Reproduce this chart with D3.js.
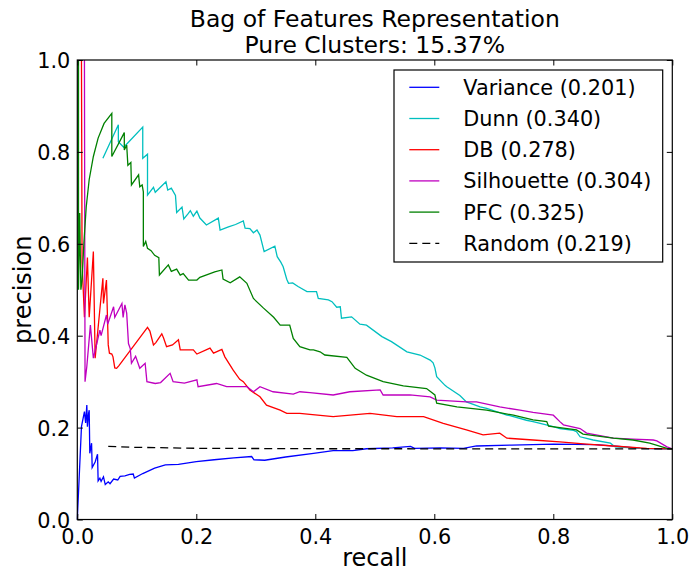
<!DOCTYPE html>
<html>
<head>
<meta charset="utf-8">
<script src="https://cdn.jsdelivr.net/npm/d3@7"></script>
<style>
  html, body { margin: 0; padding: 0; background: #fff; }
  svg { display: block; font-family: "DejaVu Sans", sans-serif; }
</style>
</head>
<body>
<svg id="chart" width="692" height="571"></svg>
<script>
// Precision-recall curves: [recall, precision] pairs per clustering criterion
const varianceData = [[0,0],[0.007,0.202],[0.012,0.235],[0.014,0.21],[0.016,0.249],[0.017,0.202],[0.019,0.231],[0.020,0.238],[0.021,0.144],[0.024,0.166],[0.025,0.113],[0.030,0.125],[0.034,0.142],[0.035,0.084],[0.038,0.09],[0.040,0.083],[0.044,0.093],[0.047,0.076],[0.052,0.082],[0.055,0.078],[0.061,0.088],[0.068,0.086],[0.072,0.094],[0.08,0.095],[0.088,0.098],[0.094,0.099],[0.096,0.090],[0.11,0.1],[0.13,0.112],[0.148,0.119],[0.17,0.12],[0.2,0.126],[0.23,0.13],[0.263,0.134],[0.293,0.137],[0.297,0.130],[0.315,0.129],[0.35,0.136],[0.397,0.144],[0.43,0.150],[0.463,0.150],[0.486,0.154],[0.53,0.156],[0.56,0.159],[0.567,0.155],[0.61,0.156],[0.649,0.155],[0.671,0.160],[0.73,0.162],[0.80,0.164],[0.87,0.163],[0.91,0.159],[0.946,0.155],[1.0,0.1537]];

const dunnData = [[0.043,0.786],[0.069,0.859],[0.069,0.822],[0.078,0.81],[0.110,0.854],[0.110,0.786],[0.118,0.795],[0.118,0.706],[0.128,0.723],[0.131,0.712],[0.149,0.735],[0.152,0.717],[0.158,0.721],[0.165,0.705],[0.167,0.668],[0.176,0.68],[0.179,0.654],[0.186,0.665],[0.19,0.672],[0.195,0.66],[0.201,0.671],[0.206,0.656],[0.217,0.641],[0.237,0.656],[0.240,0.630],[0.254,0.637],[0.266,0.642],[0.279,0.650],[0.282,0.634],[0.29,0.633],[0.296,0.624],[0.302,0.630],[0.307,0.619],[0.314,0.583],[0.332,0.595],[0.336,0.572],[0.342,0.560],[0.346,0.550],[0.352,0.523],[0.355,0.514],[0.362,0.515],[0.371,0.507],[0.386,0.496],[0.402,0.496],[0.405,0.481],[0.422,0.478],[0.428,0.474],[0.436,0.462],[0.442,0.463],[0.444,0.438],[0.461,0.441],[0.475,0.425],[0.486,0.423],[0.512,0.398],[0.528,0.387],[0.554,0.365],[0.576,0.358],[0.593,0.347],[0.598,0.341],[0.601,0.33],[0.604,0.311],[0.618,0.292],[0.621,0.289],[0.643,0.27],[0.654,0.256],[0.677,0.245],[0.688,0.242],[0.722,0.227],[0.727,0.226],[0.755,0.216],[0.766,0.213],[0.80,0.202],[0.811,0.198],[0.834,0.194],[0.839,0.191],[0.845,0.180],[0.867,0.173],[0.896,0.166],[0.904,0.158],[0.946,0.155],[1.0,0.1537]];

const dbData = [[0.007,1.0],[0.008,0.56],[0.012,0.44],[0.017,0.57],[0.02,0.44],[0.027,0.583],[0.030,0.351],[0.043,0.525],[0.044,0.47],[0.049,0.521],[0.052,0.38],[0.054,0.362],[0.058,0.36],[0.060,0.354],[0.063,0.33],[0.066,0.329],[0.07,0.335],[0.118,0.418],[0.122,0.41],[0.128,0.38],[0.132,0.385],[0.142,0.404],[0.145,0.395],[0.150,0.376],[0.160,0.38],[0.170,0.391],[0.173,0.369],[0.195,0.369],[0.201,0.36],[0.223,0.373],[0.229,0.362],[0.243,0.37],[0.248,0.354],[0.262,0.325],[0.273,0.305],[0.279,0.30],[0.290,0.282],[0.307,0.267],[0.318,0.249],[0.341,0.238],[0.352,0.231],[0.374,0.231],[0.391,0.229],[0.43,0.224],[0.492,0.231],[0.537,0.224],[0.582,0.224],[0.615,0.209],[0.654,0.195],[0.682,0.184],[0.71,0.188],[0.722,0.177],[0.766,0.173],[0.811,0.169],[0.856,0.164],[0.901,0.16],[0.957,0.155],[1.0,0.1537]];

const silhouetteData = [[0.012,1.0],[0.013,0.300],[0.016,0.333],[0.022,0.423],[0.027,0.351],[0.038,0.412],[0.040,0.40],[0.049,0.445],[0.051,0.425],[0.061,0.463],[0.063,0.44],[0.075,0.47],[0.077,0.44],[0.080,0.467],[0.083,0.449],[0.086,0.383],[0.089,0.372],[0.091,0.340],[0.098,0.355],[0.105,0.329],[0.114,0.340],[0.117,0.300],[0.131,0.296],[0.14,0.298],[0.156,0.318],[0.161,0.300],[0.18,0.297],[0.201,0.304],[0.203,0.289],[0.234,0.296],[0.251,0.289],[0.285,0.289],[0.296,0.278],[0.307,0.289],[0.329,0.278],[0.363,0.273],[0.374,0.278],[0.391,0.276],[0.43,0.271],[0.458,0.278],[0.509,0.282],[0.514,0.271],[0.559,0.271],[0.593,0.267],[0.604,0.260],[0.654,0.256],[0.671,0.256],[0.71,0.245],[0.744,0.238],[0.766,0.233],[0.80,0.227],[0.811,0.213],[0.817,0.206],[0.845,0.198],[0.856,0.188],[0.901,0.177],[0.934,0.175],[0.968,0.173],[0.974,0.171],[0.991,0.158],[1.0,0.1537]];

const pfcData = [[0.002,1.0],[0.002,0.5],[0.004,0.667],[0.006,0.5],[0.008,0.52],[0.011,0.6],[0.015,0.68],[0.02,0.74],[0.027,0.79],[0.035,0.83],[0.045,0.862],[0.058,0.884],[0.058,0.790],[0.079,0.842],[0.079,0.804],[0.083,0.815],[0.085,0.771],[0.090,0.777],[0.091,0.728],[0.103,0.750],[0.105,0.724],[0.109,0.728],[0.111,0.713],[0.111,0.594],[0.115,0.605],[0.118,0.59],[0.124,0.585],[0.13,0.575],[0.137,0.57],[0.138,0.532],[0.153,0.554],[0.158,0.54],[0.167,0.545],[0.173,0.532],[0.178,0.535],[0.187,0.521],[0.201,0.521],[0.206,0.527],[0.231,0.539],[0.243,0.543],[0.245,0.523],[0.257,0.515],[0.273,0.528],[0.285,0.514],[0.296,0.481],[0.313,0.46],[0.33,0.44],[0.341,0.423],[0.357,0.423],[0.363,0.394],[0.374,0.376],[0.391,0.369],[0.397,0.369],[0.408,0.365],[0.416,0.358],[0.453,0.353],[0.467,0.329],[0.486,0.314],[0.514,0.300],[0.548,0.291],[0.587,0.285],[0.601,0.271],[0.604,0.253],[0.638,0.245],[0.688,0.238],[0.733,0.227],[0.766,0.217],[0.789,0.213],[0.792,0.203],[0.839,0.195],[0.850,0.186],[0.901,0.177],[0.934,0.173],[0.962,0.166],[0.991,0.155],[1.0,0.1537]];

const randomData = [[0.052,0.159],[0.1,0.157],[0.2,0.155],[0.4,0.154],[1.0,0.1537]];

const seriesNames = ["Variance (0.201)", "Dunn (0.340)", "DB (0.278)", "Silhouette (0.304)", "PFC (0.325)", "Random (0.219)"];
const seriesColors = ["#0000ff", "#00bfbf", "#ff0000", "#bf00bf", "#008000", "#000000"];
const tickValues = [0, 0.2, 0.4, 0.6, 0.8, 1.0];
const titleLines = ["Bag of Features Representation", "Pure Clusters: 15.37%"];

const seriesData = [varianceData, dunnData, dbData, silhouetteData, pfcData, randomData];

const svg = d3.select("#chart");
const margin = { left: 77.3, right: 692 - 672.3, top: 60, bottom: 571 - 519.5 };
const W = 692 - margin.left - margin.right;
const H = 571 - margin.top - margin.bottom;

const x = d3.scaleLinear().domain([0, 1]).range([0, W]);
const y = d3.scaleLinear().domain([0, 1]).range([H, 0]);

const g = svg.append("g").attr("transform", `translate(${margin.left},${margin.top})`);

g.append("defs").append("clipPath").attr("id", "plotclip")
  .append("rect").attr("x", -1).attr("y", -1).attr("width", W + 2).attr("height", H + 2);

const line = d3.line().x(d => x(d[0])).y(d => y(d[1]));

const curves = g.append("g").attr("clip-path", "url(#plotclip)");
seriesData.forEach((data, i) => {
  curves.append("path")
    .datum(data)
    .attr("d", line)
    .attr("fill", "none")
    .attr("stroke", seriesColors[i])
    .attr("stroke-width", 1.3)
    .attr("stroke-linejoin", "miter")
    .attr("stroke-dasharray", i === 5 ? "8,5" : null);
});

// Axes: inward ticks on all four sides, labels on bottom and left
const tickFmt = d3.format(".1f");
const tickLen = 5.5;
const fontTick = 20.8;

const xb = g.append("g").attr("transform", `translate(0,${H})`)
  .call(d3.axisBottom(x).tickValues(tickValues).tickFormat(tickFmt).tickSizeInner(-tickLen).tickSizeOuter(0).tickPadding(10));
const yl = g.append("g")
  .call(d3.axisLeft(y).tickValues(tickValues).tickFormat(tickFmt).tickSizeInner(-tickLen).tickSizeOuter(0).tickPadding(7));
const xt = g.append("g")
  .call(d3.axisTop(x).tickValues(tickValues).tickFormat("").tickSizeInner(-tickLen).tickSizeOuter(0));
const yr = g.append("g").attr("transform", `translate(${W},0)`)
  .call(d3.axisRight(y).tickValues(tickValues).tickFormat("").tickSizeInner(-tickLen).tickSizeOuter(0));

[xb, yl, xt, yr].forEach(a => {
  a.select(".domain").remove();
  a.selectAll(".tick line").attr("stroke", "#000").attr("stroke-width", 1);
  a.selectAll("text").attr("fill", "#000").style("font-size", fontTick + "px").style("font-family", "DejaVu Sans");
});
xb.selectAll("text").attr("dy", "0.71em");
yl.selectAll("text").attr("dy", "0.36em");

// Frame
g.append("rect").attr("x", 0).attr("y", 0).attr("width", W).attr("height", H)
  .attr("fill", "none").attr("stroke", "#000").attr("stroke-width", 1.2);

// Axis labels
svg.append("text")
  .attr("x", margin.left + W / 2).attr("y", 566)
  .attr("text-anchor", "middle").style("font-size", "24px").text("recall");
svg.append("text")
  .attr("transform", `translate(31,${margin.top + H / 2}) rotate(-90)`)
  .attr("text-anchor", "middle").style("font-size", "24px").text("precision");

// Title
titleLines.forEach((t, i) => {
  svg.append("text")
    .attr("x", margin.left + W / 2).attr("y", 27 + i * 26)
    .attr("text-anchor", "middle").style("font-size", "23.5px").text(t);
});

// Legend
const lg = g.append("g").attr("transform", `translate(${394 - margin.left},${70 - margin.top})`);
lg.append("rect").attr("x", 0).attr("y", 0).attr("width", 268.7).attr("height", 192)
  .attr("fill", "#fff").attr("stroke", "#000").attr("stroke-width", 1.2);
seriesNames.forEach((name, i) => {
  const cy = 17.3 + i * 31.2;
  lg.append("line")
    .attr("x1", 15.3).attr("x2", 45.3).attr("y1", cy).attr("y2", cy)
    .attr("stroke", seriesColors[i]).attr("stroke-width", 1.3)
    .attr("stroke-dasharray", i === 5 ? "8,5" : null);
  lg.append("text")
    .attr("x", 69.3).attr("y", cy).attr("dy", "0.36em")
    .style("font-size", "20.8px").text(name);
});
</script>
</body>
</html>
